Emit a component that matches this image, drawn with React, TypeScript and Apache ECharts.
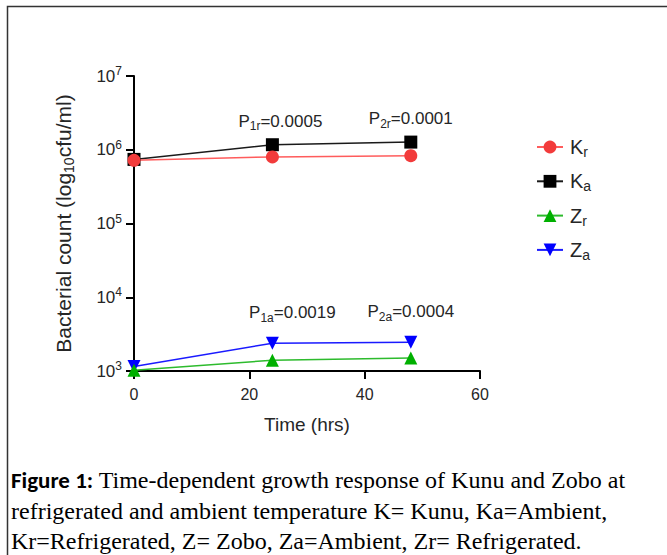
import React, { useEffect, useRef } from 'react';
import * as echarts from 'echarts';

// ---- data ----
const timeHrs = [0, 24, 48];
const krValues = [7.2e5, 8.0e5, 8.3e5];
const kaValues = [7.4e5, 1.17e6, 1.27e6];
const zrValues = [1.02e3, 1.4e3, 1.5e3];
const zaValues = [1.15e3, 2.38e3, 2.45e3];
const seriesNames = ['Kr', 'Ka', 'Zr', 'Za'];
const legendMain = ['K', 'K', 'Z', 'Z'];
const legendSub = ['r', 'a', 'r', 'a'];
const pSubKa = ['', '1r', '2r'];
const pValKa = ['', '0.0005', '0.0001'];
const pSubZa = ['', '1a', '2a'];
const pValZa = ['', '0.0019', '0.0004'];
const xTicks = [0, 20, 40, 60];
const yDecades = [3, 4, 5, 6, 7];
const captionLine1Bold = 'Figure 1:';
const captionLine1 = ' Time-dependent growth response of Kunu and Zobo at';
const captionLine2 = 'refrigerated and ambient temperature K= Kunu, Ka=Ambient,';
const captionLine3 = 'Kr=Refrigerated, Z= Zobo, Za=Ambient, Zr= Refrigerated.';

const SANS = '"Liberation Sans", Arial, sans-serif';
const SERIF = '"Liberation Serif", "Times New Roman", serif';
const TXT = '#262626';

const pRich = {
  m: { fontSize: 17, fontFamily: SANS, color: TXT, lineHeight: 22, verticalAlign: 'middle' as const },
  s: { fontSize: 12, fontFamily: SANS, color: TXT, lineHeight: 12, verticalAlign: 'bottom' as const },
};

function pData(values: number[], subs: string[], vals: string[], offsets: number[][], distance: number) {
  return values.map((v, i) => {
    const item: any = { value: [timeHrs[i], v] };
    if (subs[i]) {
      item.label = {
        show: true,
        position: 'top',
        distance,
        offset: offsets[i],
        formatter: `{m|P}{s|${subs[i]}}{m|=${vals[i]}}`,
        rich: pRich,
      };
    }
    return item;
  });
}

export default function App() {
  const ref = useRef<HTMLDivElement>(null);
  useEffect(() => {
    document.body.style.margin = '0';
    const chart = echarts.init(ref.current!, null, { renderer: 'svg' });
    const colors: Record<string, { mark: string; line: string; symbol: string }> = {
      Kr: { mark: '#f23b3b', line: '#ff5c5c', symbol: 'circle' },
      Ka: { mark: '#000000', line: '#1a1a1a', symbol: 'rect' },
      Zr: { mark: '#00b000', line: '#2dbb2d', symbol: 'triangle' },
      Za: { mark: '#0000ff', line: '#1a1aff', symbol: 'triangle' },
    };
    const mk = (name: string, data: any[], rotate = 0) => ({
      name,
      type: 'line',
      data,
      symbol: colors[name].symbol,
      symbolSize: 13,
      symbolRotate: rotate,
      clip: false,
      itemStyle: { color: colors[name].mark },
      lineStyle: { color: colors[name].line, width: 1.5 },
    });
    const option: any = {
      animation: false,
      backgroundColor: '#ffffff',
      grid: { left: 134, right: 187, top: 76, bottom: 184, containLabel: false, outerBoundsMode: 'none' },
      xAxis: {
        type: 'value',
        min: xTicks[0],
        max: xTicks[xTicks.length - 1],
        interval: 20,
        name: 'Time (hrs)',
        nameLocation: 'middle',
        nameGap: 44,
        nameTextStyle: { fontSize: 19, fontFamily: SANS, color: TXT },
        axisLine: { lineStyle: { color: '#000', width: 2 } },
        axisTick: { show: true, length: 8, lineStyle: { color: '#000', width: 2 } },
        axisLabel: { fontSize: 16, fontFamily: SANS, color: TXT, margin: 15 },
        splitLine: { show: false },
      },
      yAxis: {
        type: 'log',
        logBase: 10,
        min: Math.pow(10, yDecades[0]),
        max: Math.pow(10, yDecades[yDecades.length - 1]),
        name: '{a|Bacterial count (log}{s|10}{a|cfu/ml)}',
        nameLocation: 'middle',
        nameGap: 58,
        nameTextStyle: {
          rich: {
            a: { fontSize: 21, fontFamily: SANS, color: TXT, lineHeight: 26, verticalAlign: 'middle' },
            s: { fontSize: 14, fontFamily: SANS, color: TXT, lineHeight: 13, verticalAlign: 'bottom' },
          },
        },
        axisLine: { show: true, lineStyle: { color: '#000', width: 2 } },
        axisTick: { show: true, length: 8, lineStyle: { color: '#000', width: 2 } },
        axisLabel: {
          margin: 12,
          formatter: (v: number) => `{b|10}{e|${Math.round(Math.log10(v))}}`,
          rich: {
            b: { fontSize: 17, fontFamily: SANS, color: TXT, lineHeight: 22, verticalAlign: 'middle' },
            e: { fontSize: 12, fontFamily: SANS, color: TXT, lineHeight: 12, verticalAlign: 'top' },
          },
        },
        splitLine: { show: false },
        minorTick: { show: false },
      },
      legend: {
        orient: 'vertical',
        left: 531,
        top: 132,
        itemWidth: 26,
        itemHeight: 16,
        itemGap: 12.3,
        data: seriesNames,
        formatter: (name: string) => {
          const i = seriesNames.indexOf(name);
          return `{m|${legendMain[i]}}{s|${legendSub[i]}}`;
        },
        textStyle: {
          rich: {
            m: { fontSize: 20, fontFamily: SANS, color: TXT, lineHeight: 24, verticalAlign: 'middle', padding: [0, 0, 0, 2] },
            s: { fontSize: 14, fontFamily: SANS, color: TXT, lineHeight: 12, verticalAlign: 'bottom' },
          },
        },
      },
      series: [
        mk('Ka', pData(kaValues, pSubKa, pValKa, [[0, 0], [8, 0], [0, 0]], 6)),
        mk('Kr', krValues.map((v, i) => [timeHrs[i], v])),
        mk('Za', pData(zaValues, pSubZa, pValZa, [[0, 0], [20, 0], [0, 0]], 13), 180),
        mk('Zr', zrValues.map((v, i) => [timeHrs[i], v])),
      ],
      graphic: [
        {
          type: 'rect',
          z: -10,
          shape: { x: 7.5, y: 6.5, width: 700, height: 600 },
          style: { fill: 'none', stroke: '#333', lineWidth: 1.5 },
        },
        {
          type: 'text',
          x: 11,
          y: 480,
          style: {
            text: `{b|${captionLine1Bold}}{t|${captionLine1}}`,
            verticalAlign: 'middle',
            rich: {
              b: { fontSize: 23, fontWeight: 'bold', fontFamily: 'Carlito, "Noto Sans", sans-serif', fill: '#000' },
              t: { fontSize: 24, fontFamily: SERIF, fill: '#000' },
            },
          },
        },
        {
          type: 'text',
          x: 11,
          y: 511,
          style: { text: captionLine2, verticalAlign: 'middle', fontSize: 24, fontFamily: SERIF, fill: '#000' },
        },
        {
          type: 'text',
          x: 11,
          y: 541,
          style: { text: captionLine3, verticalAlign: 'middle', fontSize: 24, fontFamily: SERIF, fill: '#000' },
        },
      ],
    };
    chart.setOption(option);
    return () => chart.dispose();
  }, []);
  return <div ref={ref} style={{ position: 'absolute', left: 0, top: 0, width: 667, height: 555 }} />;
}
